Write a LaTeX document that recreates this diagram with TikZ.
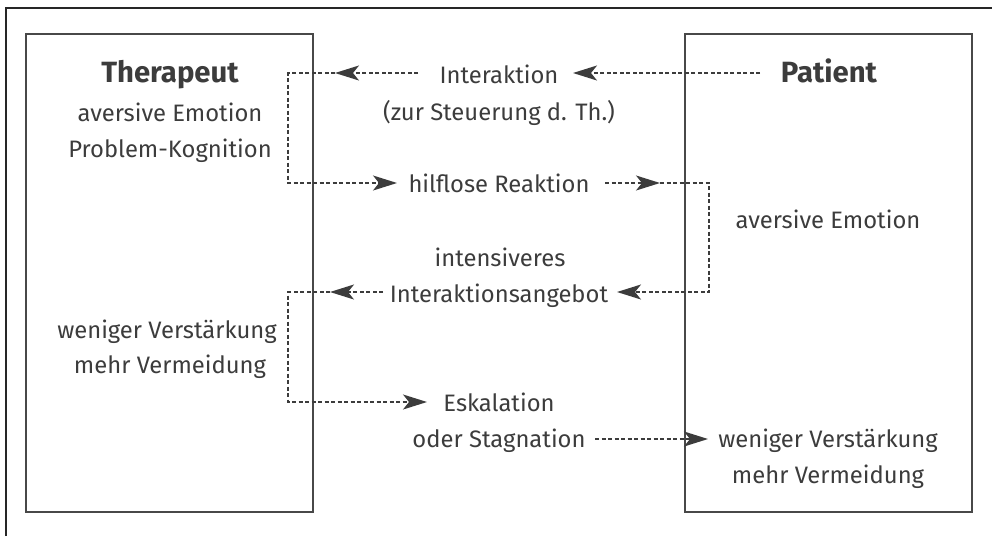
\documentclass[tikz,border=0pt]{standalone}
\usepackage{fontspec}
\setmainfont{Fira Sans}
\usetikzlibrary{arrows.meta}
\definecolor{ink}{HTML}{3C3C3C}
\definecolor{linec}{HTML}{484848}
\begin{document}
\begin{tikzpicture}[x=1pt,y=-1pt,
  txt/.style={text=ink, font=\fontsize{23.8}{26}\selectfont, inner sep=0pt, anchor=base},
  ttl/.style={text=ink, font=\fontsize{29.3}{32}\selectfont\bfseries, inner sep=0pt, anchor=base},
  box/.style={draw=linec, line width=2pt},
  frame/.style={draw=black!85, line width=1.5pt},
  conn/.style={draw=ink, line width=1.5pt, dash pattern=on 4pt off 2.5pt},
  tip/.style={conn, -{Stealth[length=24pt,width=15pt,inset=6pt]}}]
\useasboundingbox (0,0) rectangle (992,536);
% outer frame (top and left edges)
\draw[frame] (6,536) -- (6,8) -- (992,8);
% boxes
\draw[box] (26,34) rectangle (313,512);
\draw[box] (685,34) rectangle (972,512);
% left box text
\node[ttl] (ther) at (170,82) {Therapeut};
\node[txt] (lav) at (170,121) {aversive Emotion};
\node[txt] (lpk) at (170,157) {Problem-Kognition};
\node[txt] (lwv) at (167,338) {weniger Verstärkung};
\node[txt] (lmv) at (170,373) {mehr Vermeidung};
% right box text
\node[ttl] (pat) at (829,82) {Patient};
\node[txt] (rav) at (828,228) {aversive Emotion};
\node[txt] (rwv) at (828,447) {weniger Verstärkung};
\node[txt] (rmv) at (828,483) {mehr Vermeidung};
% middle text
\node[txt] (inter) at (499,83) {Interaktion};
\node[txt] (steu) at (499,120) {(zur Steuerung d. Th.)};
\node[txt] (hilf) at (499,192) {hilflose Reaktion};
\node[txt] (inten) at (500,266) {intensiveres};
\node[txt] (iang) at (499,302) {Interaktionsangebot};
\node[txt] (eska) at (499,411) {Eskalation};
\node[txt] (stag) at (499,447) {oder Stagnation};
% coordinates
\coordinate (p1s) at (760,73);
\coordinate (p1t) at (573,73);
\coordinate (a1s) at (418,73);
\coordinate (a1t) at (335,73);
\coordinate (a1c1) at (288,73);
\coordinate (a1c2) at (288,183);
\coordinate (a1e) at (397,183);
\coordinate (h1s) at (605,183);
\coordinate (h1t) at (660,183);
\coordinate (h1c1) at (709,183);
\coordinate (h1c2) at (709,292);
\coordinate (h1e) at (617,292);
\coordinate (g1s) at (383,292);
\coordinate (g1t) at (330,292);
\coordinate (g1c1) at (288,292);
\coordinate (g1c2) at (288,402);
\coordinate (g1e) at (427,402);
\coordinate (s1s) at (595,439);
\coordinate (s1t) at (708,439);
% connectors
\draw[tip] (p1s) -- (p1t);
\draw[tip] (a1s) -- (a1t);
\draw[tip] (a1t) -- (a1c1) -- (a1c2) -- (a1e);
\draw[tip] (h1s) -- (h1t);
\draw[tip] (h1t) -- (h1c1) -- (h1c2) -- (h1e);
\draw[tip] (g1s) -- (g1t);
\draw[tip] (g1t) -- (g1c1) -- (g1c2) -- (g1e);
\draw[tip] (s1s) -- (s1t);
\end{tikzpicture}
\end{document}
